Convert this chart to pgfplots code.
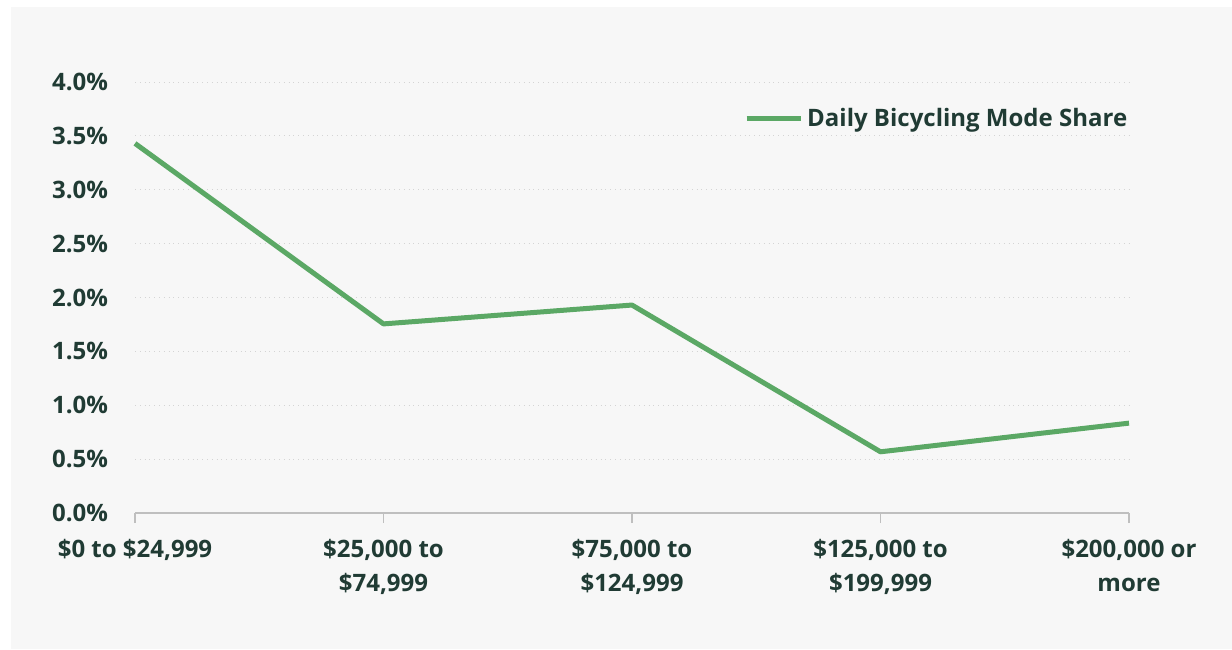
\documentclass[border=0pt]{standalone}
\usepackage{fontspec}
\setmainfont{Open Sans}
\usepackage{pgfplots}
\pgfplotsset{compat=1.18}
\definecolor{bgpanel}{HTML}{F7F7F7}
\definecolor{txt}{HTML}{203B34}
\definecolor{linegreen}{HTML}{5BA865}
\definecolor{axisgray}{HTML}{BFBFBF}
\definecolor{gridgray}{HTML}{D4D4D4}
\begin{document}
\begin{tikzpicture}[x=1pt,y=1pt]
\fill[white] (0,0) rectangle (616,324.5);
\fill[bgpanel] (5.5,0) rectangle (616,321);
\useasboundingbox (0,0) rectangle (616,324.5);
\begin{axis}[
  at={(67.5pt,68pt)}, anchor=south west,
  scale only axis, width=497pt, height=215.5pt,
  xmin=0, xmax=4, ymin=0, ymax=4,
  xtick={0,1,2,3,4},
  xticklabels={{\$0 to \$24,999},{\$25,000 to\\\$74,999},{\$75,000 to\\\$124,999},{\$125,000 to\\\$199,999},{\$200,000 or\\more}},
  ytick={0,0.5,...,4},
  yticklabel={\pgfmathprintnumber[fixed,fixed zerofill,precision=1]{\tick}\%},
  /pgf/number format/assume math mode=true,
  axis x line*=bottom, axis y line*=left,
  x axis line style={draw=axisgray, line width=0.75pt, -},
  y axis line style={draw=none},
  xtick align=outside, xtick pos=bottom,
  major tick length=5pt,
  xtick style={draw=axisgray, line width=0.75pt},
  ytick style={draw=none},
  ymajorgrids,
  major grid style={draw=gridgray, dotted, line width=0.5pt},
  tick label style={font=\fontsize{12}{17}\selectfont\bfseries, text=txt},
  xticklabel style={align=center, yshift=-4.5pt},
  yticklabel style={anchor=east, xshift=-10pt},
  clip=false,
  legend style={draw=none, fill=none, at={(axis cs:2.45,3.66)}, anchor=west,
    font=\fontsize{12}{14}\selectfont\bfseries, text=txt, inner sep=0pt,
    /tikz/every even column/.append style={column sep=0pt}},
  legend image code/.code={\draw[#1] (0pt,0pt) -- (27pt,0pt);},
]
\addplot[linegreen, line width=2.5pt, line join=round] coordinates {
  (0,3.43) (1,1.755) (2,1.93) (3,0.568) (4,0.834)
};
\addlegendentry{Daily Bicycling Mode Share}
\end{axis}
\end{tikzpicture}
\end{document}
